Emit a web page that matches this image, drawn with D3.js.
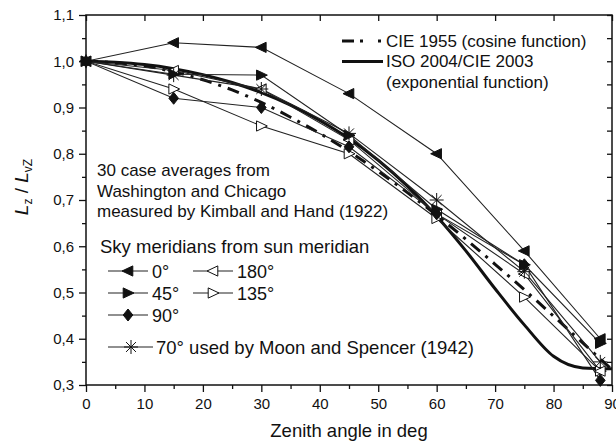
<!DOCTYPE html>
<html>
<head>
<meta charset="utf-8">
<script src="https://d3js.org/d3.v7.min.js"></script>
<style>
  body { margin: 0; background: #fff; }
  text { font-family: "Liberation Sans", Arial, sans-serif; fill: #111; }
</style>
</head>
<body>
<svg id="chart" width="616" height="443"></svg>
<script>
// measured zenith angles (deg)
var angles = [0, 15, 30, 45, 60, 75, 88];
// luminance ratios per sky meridian
var m0   = [1.00, 1.04, 1.03, 0.93, 0.80, 0.59, 0.40];
var m45  = [1.00, 0.972, 0.97, 0.84, 0.68, 0.56, 0.39];
var m90  = [1.00, 0.92, 0.90, 0.815, 0.67, 0.56, 0.31];
var m180 = [1.00, 0.98, 0.94, 0.83, 0.67, 0.54, 0.33];
var m135 = [1.00, 0.94, 0.86, 0.80, 0.66, 0.49, 0.33];
var m70  = [1.00, 0.97, 0.94, 0.844, 0.70, 0.545, 0.35];

// reference curves, sampled every 5 deg
var curveAngles = [0, 5, 10, 15, 20, 25, 30, 35, 40, 45, 50, 55, 60, 65, 70, 75, 80, 85, 90];
var cie1955 = [1.000, 0.997, 0.990, 0.977, 0.960, 0.938, 0.911, 0.879, 0.844, 0.805,
               0.762, 0.716, 0.667, 0.615, 0.561, 0.506, 0.449, 0.391, 0.333];
var iso2004 = [1.000, 0.998, 0.993, 0.984, 0.971, 0.954, 0.932, 0.905, 0.872, 0.833,
               0.786, 0.730, 0.665, 0.590, 0.508, 0.430, 0.362, 0.337, 0.335];

var xTicks = [0, 10, 20, 30, 40, 50, 60, 70, 80, 90];
var yTicks = [0.3, 0.4, 0.5, 0.6, 0.7, 0.8, 0.9, 1.0, 1.1];

var margin = {left: 86, right: 4, top: 15, bottom: 58};
var W = 616, H = 443;
var svg = d3.select("#chart");

var x = d3.scaleLinear().domain([0, 90]).range([margin.left, W - margin.right]);
var y = d3.scaleLinear().domain([0.3, 1.1]).range([H - margin.bottom, margin.top]);
var fmt = v => d3.format(".1f")(v).replace(".", ",");

// --- axes
function styleAxis(g) {
  g.select(".domain").remove();
  g.selectAll("line").attr("stroke", "#111").attr("stroke-width", 1.3);
}
var minorX = d3.range(5, 90, 10);
var minorY = d3.range(0.35, 1.1, 0.1);

svg.append("g").attr("transform", `translate(0,${y(0.3)})`)
  .call(d3.axisBottom(x).tickValues(xTicks).tickSize(7).tickPadding(6).tickFormat(d3.format("d")))
  .call(styleAxis)
  .selectAll("text").attr("font-size", 15).attr("fill", "#111");
svg.append("g").attr("transform", `translate(0,${y(0.3)})`)
  .call(d3.axisBottom(x).tickValues(minorX).tickSize(4).tickFormat(""))
  .call(styleAxis);
svg.append("g").attr("transform", `translate(${x(0)},0)`)
  .call(d3.axisLeft(y).tickValues(yTicks).tickSize(7).tickPadding(5).tickFormat(fmt))
  .call(styleAxis)
  .selectAll("text").attr("font-size", 15).attr("fill", "#111");
svg.append("g").attr("transform", `translate(${x(0)},0)`)
  .call(d3.axisLeft(y).tickValues(minorY).tickSize(4).tickFormat(""))
  .call(styleAxis);
// top and right: inward ticks
svg.append("g").attr("transform", `translate(0,${y(1.1)})`)
  .call(d3.axisBottom(x).tickValues(xTicks).tickSize(6).tickFormat(""))
  .call(styleAxis);
svg.append("g").attr("transform", `translate(${x(90)},0)`)
  .call(d3.axisLeft(y).tickValues(yTicks.concat(minorY)).tickSize(5).tickFormat(""))
  .call(styleAxis);

svg.append("rect")
  .attr("x", x(0)).attr("y", y(1.1))
  .attr("width", x(90) - x(0)).attr("height", y(0.3) - y(1.1))
  .attr("fill", "none").attr("stroke", "#111").attr("stroke-width", 1.5);

// --- axis titles
svg.append("text").attr("x", 349).attr("y", 437)
  .attr("text-anchor", "middle").attr("font-size", 18.5)
  .text("Zenith angle in deg");

var yl = svg.append("text")
  .attr("transform", "translate(28,187) rotate(-90)")
  .attr("text-anchor", "middle").attr("font-size", 19);
yl.append("tspan").attr("font-style", "italic").text("L");
yl.append("tspan").attr("font-size", 12).attr("dy", 4).text("z");
yl.append("tspan").attr("dy", -4).text(" / ");
yl.append("tspan").attr("font-style", "italic").text("L");
yl.append("tspan").attr("font-size", 12).attr("dy", 4).text("vZ");

// --- reference curves
var clip = svg.append("clipPath").attr("id", "plotclip").append("rect")
  .attr("x", x(0)).attr("y", y(1.1)).attr("width", x(90) - x(0)).attr("height", y(0.3) - y(1.1));
var plot = svg.append("g").attr("clip-path", "url(#plotclip)");

var curveLine = d3.line().x(d => x(d[0])).y(d => y(d[1])).curve(d3.curveMonotoneX);
var dashPattern = "12,7,3,7";
plot.append("path")
  .datum(curveAngles.map((a, i) => [a, cie1955[i]]))
  .attr("d", curveLine).attr("fill", "none")
  .attr("stroke", "#111").attr("stroke-width", 3).attr("stroke-dasharray", dashPattern);
plot.append("path")
  .datum(curveAngles.map((a, i) => [a, iso2004[i]]))
  .attr("d", curveLine).attr("fill", "none")
  .attr("stroke", "#111").attr("stroke-width", 3);

// --- marker shapes
function markerPath(kind, s) {
  if (kind == "left") return `M${-s},0L${s * 0.8},${-s * 0.85}L${s * 0.8},${s * 0.85}Z`;
  if (kind == "right") return `M${s},0L${-s * 0.8},${-s * 0.85}L${-s * 0.8},${s * 0.85}Z`;
  if (kind == "diamond") return `M0,${-s}L${s * 0.8},0L0,${s}L${-s * 0.8},0Z`;
  // star: 8 spokes
  var p = "";
  for (var k = 0; k < 4; k++) {
    var a = k * Math.PI / 4;
    p += `M${-s * Math.cos(a)},${-s * Math.sin(a)}L${s * Math.cos(a)},${s * Math.sin(a)}`;
  }
  return p;
}
function drawMarker(g, kind, filled, cx, cy, s) {
  g.append("path")
    .attr("transform", `translate(${cx},${cy})`)
    .attr("d", markerPath(kind, s))
    .attr("fill", kind == "star" ? "none" : (filled ? "#111" : "#fff"))
    .attr("stroke", "#111").attr("stroke-width", kind == "star" ? 1 : 1);
}

var series = [
  {name: "135°", vals: m135, kind: "right", filled: false},
  {name: "180°", vals: m180, kind: "left", filled: false},
  {name: "70°", vals: m70, kind: "star", filled: false},
  {name: "90°", vals: m90, kind: "diamond", filled: true},
  {name: "45°", vals: m45, kind: "right", filled: true},
  {name: "0°", vals: m0, kind: "left", filled: true}
];
var segLine = d3.line().x(d => x(d[0])).y(d => y(d[1]));
series.forEach(function(s) {
  var pts = angles.map((a, i) => [a, s.vals[i]]);
  plot.append("path").datum(pts).attr("d", segLine)
    .attr("fill", "none").attr("stroke", "#222").attr("stroke-width", 1.1);
});
series.forEach(function(s) {
  angles.forEach(function(a, i) {
    drawMarker(svg, s.kind, s.filled, x(a), y(s.vals[i]), s.kind == "star" ? 7 : 6);
  });
});

// --- legend, top right
var lg = svg.append("g");
lg.append("line").attr("x1", 342).attr("x2", 383).attr("y1", 41).attr("y2", 41)
  .attr("stroke", "#111").attr("stroke-width", 3).attr("stroke-dasharray", "12,6,3,15,3");
lg.append("line").attr("x1", 342).attr("x2", 383).attr("y1", 61.5).attr("y2", 61.5)
  .attr("stroke", "#111").attr("stroke-width", 3);
lg.append("text").attr("x", 386).attr("y", 47).attr("font-size", 17).text("CIE 1955 (cosine function)");
lg.append("text").attr("x", 386).attr("y", 67).attr("font-size", 17).text("ISO 2004/CIE 2003");
lg.append("text").attr("x", 386).attr("y", 88).attr("font-size", 17).text("(exponential function)");

// --- annotation and legend, left
var note = ["30 case averages from", "Washington and Chicago", "measured by Kimball and Hand (1922)"];
note.forEach(function(t, i) {
  svg.append("text").attr("x", 97).attr("y", 176 + i * 20.5).attr("font-size", 17).text(t);
});
svg.append("text").attr("x", 100).attr("y", 253).attr("font-size", 18.5).text("Sky meridians from sun meridian");

var legendItems = [
  {label: "0°", kind: "left", filled: true, lx: 108, ly: 271},
  {label: "180°", kind: "left", filled: false, lx: 193, ly: 271},
  {label: "45°", kind: "right", filled: true, lx: 108, ly: 293},
  {label: "135°", kind: "right", filled: false, lx: 193, ly: 293},
  {label: "90°", kind: "diamond", filled: true, lx: 108, ly: 315}
];
legendItems.forEach(function(it) {
  svg.append("line").attr("x1", it.lx).attr("x2", it.lx + 40).attr("y1", it.ly).attr("y2", it.ly)
    .attr("stroke", "#222").attr("stroke-width", 1.1);
  drawMarker(svg, it.kind, it.filled, it.lx + 20, it.ly, 6);
  svg.append("text").attr("x", it.lx + 44).attr("y", it.ly + 6.5).attr("font-size", 18).text(it.label);
});
svg.append("line").attr("x1", 108).attr("x2", 153).attr("y1", 347).attr("y2", 347)
  .attr("stroke", "#222").attr("stroke-width", 1.1);
drawMarker(svg, "star", false, 131, 347, 7);
svg.append("text").attr("x", 156).attr("y", 353.5).attr("font-size", 18.5)
  .text("70° used by Moon and Spencer (1942)");
</script>
</body>
</html>
